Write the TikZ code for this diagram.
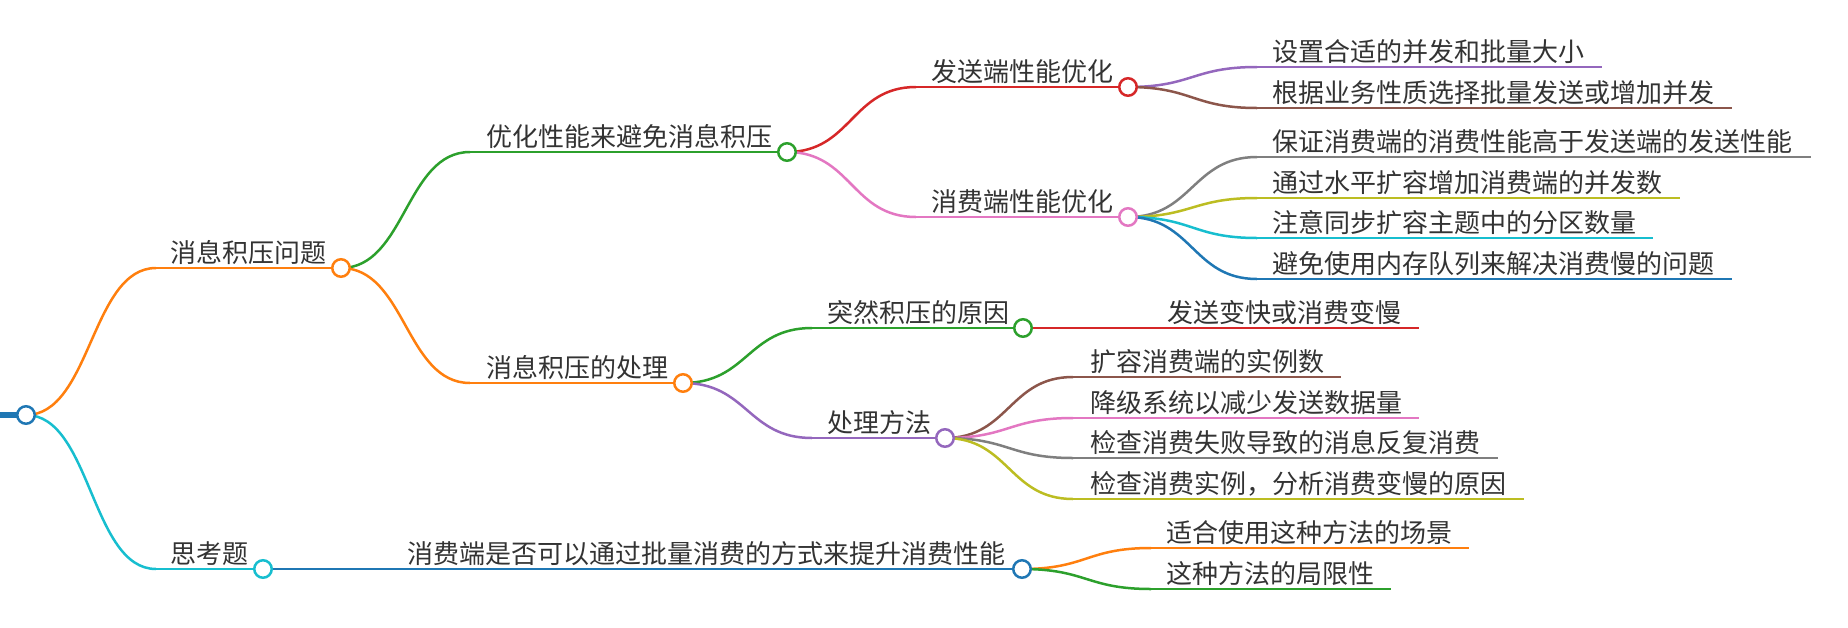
\documentclass[tikz,border=0pt]{standalone}
\usepackage{fontspec}
\setmainfont{Noto Sans CJK SC}
\usetikzlibrary{calc}
\definecolor{cblue}{HTML}{1F77B4}
\definecolor{corange}{HTML}{FF7F0E}
\definecolor{cgreen}{HTML}{2CA02C}
\definecolor{cred}{HTML}{D62728}
\definecolor{cpurple}{HTML}{9467BD}
\definecolor{cbrown}{HTML}{8C564B}
\definecolor{cpink}{HTML}{E377C2}
\definecolor{cgray}{HTML}{7F7F7F}
\definecolor{colive}{HTML}{BCBD22}
\definecolor{ccyan}{HTML}{17BECF}
\definecolor{textgray}{HTML}{333333}
\newcommand\mmnode[6]{%
  \coordinate (#1s) at (#2,#4);
  \coordinate (#1e) at (#5,#4);
  \node[txt] (#1t) at (#3,#4-6) {#6};
}
\newcommand\mmlink[3]{%
  \draw[link=#3] let \p1=(#1e), \p2=(#2s) in (\p1) .. controls ({0.5*\x1+0.5*\x2},\y1) and ({0.5*\x1+0.5*\x2},\y2) .. (\p2);
}
\newcommand\mmline[2]{\draw[link=#2] (#1s) -- (#1e);}
\begin{document}
\begin{tikzpicture}[x=1pt,y=-1pt,
  txt/.style={anchor=base west, inner sep=0pt, text=textgray, font=\fontsize{26}{30}\selectfont},
  dot/.style={circle, draw=#1, fill=white, line width=2.5pt, minimum size=17.5pt, inner sep=0pt},
  link/.style={draw=#1, line width=2.5pt},
]
\useasboundingbox (0,0) rectangle (1848,627);
% root
\coordinate (R0) at (0,415);
\coordinate (Re) at (26,415);
% nodes
\mmnode{A}{156}{170}{268}{341}{消息积压问题}
\mmnode{B}{156}{170}{569}{263}{思考题}
\mmnode{Aa}{470}{486}{152}{787}{优化性能来避免消息积压}
\mmnode{Ab}{470}{486}{383}{683}{消息积压的处理}
\mmnode{Ba}{392}{407}{569}{1022}{消费端是否可以通过批量消费的方式来提升消费性能}
\mmnode{Aaa}{916}{931}{87}{1128}{发送端性能优化}
\mmnode{Aab}{916}{931}{217}{1128}{消费端性能优化}
\mmnode{Aba}{812}{827}{328}{1023}{突然积压的原因}
\mmnode{Abb}{812}{827}{438}{945}{处理方法}
\mmnode{Baa}{1151}{1166}{548}{1469}{适合使用这种方法的场景}
\mmnode{Bab}{1151}{1166}{589}{1391}{这种方法的局限性}
\mmnode{Aaaa}{1257}{1272}{67}{1602}{设置合适的并发和批量大小}
\mmnode{Aaab}{1257}{1272}{108}{1732}{根据业务性质选择批量发送或增加并发}
\mmnode{Aaba}{1257}{1272}{157}{1811}{保证消费端的消费性能高于发送端的发送性能}
\mmnode{Aabb}{1257}{1272}{198}{1680}{通过水平扩容增加消费端的并发数}
\mmnode{Aabc}{1257}{1272}{238}{1653}{注意同步扩容主题中的分区数量}
\mmnode{Aabd}{1257}{1272}{279}{1732}{避免使用内存队列来解决消费慢的问题}
\mmnode{Abaa}{1153}{1167}{328}{1419}{发送变快或消费变慢}
\mmnode{Abba}{1073}{1090}{377}{1341}{扩容消费端的实例数}
\mmnode{Abbb}{1073}{1090}{418}{1419}{降级系统以减少发送数据量}
\mmnode{Abbc}{1073}{1090}{458}{1498}{检查消费失败导致的消息反复消费}
\mmnode{Abbd}{1073}{1090}{499}{1524}{检查消费实例，分析消费变慢的原因}
% underlines
\draw[cblue, line width=6pt] (R0) -- (Re);
\mmline{A}{corange}
\mmline{B}{ccyan}
\mmline{Aa}{cgreen}
\mmline{Ab}{corange}
\mmline{Ba}{cblue}
\mmline{Aaa}{cred}
\mmline{Aab}{cpink}
\mmline{Aba}{cgreen}
\mmline{Abb}{cpurple}
\mmline{Baa}{corange}
\mmline{Bab}{cgreen}
\mmline{Aaaa}{cpurple}
\mmline{Aaab}{cbrown}
\mmline{Aaba}{cgray}
\mmline{Aabb}{colive}
\mmline{Aabc}{ccyan}
\mmline{Aabd}{cblue}
\mmline{Abaa}{cred}
\mmline{Abba}{cbrown}
\mmline{Abbb}{cpink}
\mmline{Abbc}{cgray}
\mmline{Abbd}{colive}
% links
\mmlink{R}{A}{corange}
\mmlink{R}{B}{ccyan}
\mmlink{A}{Aa}{cgreen}
\mmlink{A}{Ab}{corange}
\mmlink{B}{Ba}{cblue}
\mmlink{Aa}{Aaa}{cred}
\mmlink{Aa}{Aab}{cpink}
\mmlink{Ab}{Aba}{cgreen}
\mmlink{Ab}{Abb}{cpurple}
\mmlink{Ba}{Baa}{corange}
\mmlink{Ba}{Bab}{cgreen}
\mmlink{Aaa}{Aaaa}{cpurple}
\mmlink{Aaa}{Aaab}{cbrown}
\mmlink{Aab}{Aaba}{cgray}
\mmlink{Aab}{Aabb}{colive}
\mmlink{Aab}{Aabc}{ccyan}
\mmlink{Aab}{Aabd}{cblue}
\mmlink{Aba}{Abaa}{cred}
\mmlink{Abb}{Abba}{cbrown}
\mmlink{Abb}{Abbb}{cpink}
\mmlink{Abb}{Abbc}{cgray}
\mmlink{Abb}{Abbd}{colive}
% circles
\node[dot=cblue] (Rc) at (Re) {};
\node[dot=corange] (Ac) at (Ae) {};
\node[dot=ccyan] (Bc) at (Be) {};
\node[dot=cgreen] (Aac) at (Aae) {};
\node[dot=corange] (Abc) at (Abe) {};
\node[dot=cblue] (Bac) at (Bae) {};
\node[dot=cred] (Aaac) at (Aaae) {};
\node[dot=cpink] (Aabc) at (Aabe) {};
\node[dot=cgreen] (Abac) at (Abae) {};
\node[dot=cpurple] (Abbc) at (Abbe) {};
\end{tikzpicture}
\end{document}
